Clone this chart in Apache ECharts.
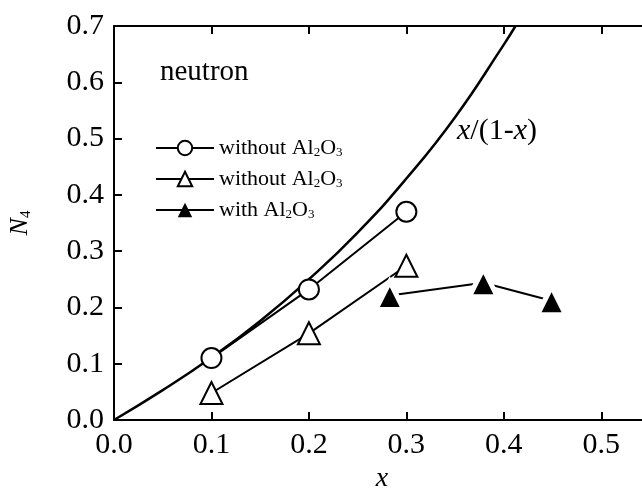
<!DOCTYPE html>
<html>
<head>
<meta charset="utf-8">
<script src="https://cdn.jsdelivr.net/npm/echarts@6/dist/echarts.min.js"></script>
<style>
  html, body { margin: 0; padding: 0; background: #fff; }
  #chart { width: 642px; height: 489px; }
</style>
</head>
<body>
<div id="chart"></div>
<script>
// values
const openCircle = [[0.1, 0.11], [0.2, 0.232], [0.3, 0.37]];
const openTriangle = [[0.1, 0.048], [0.2, 0.154], [0.3, 0.274]];
const filledTriangle = [[0.283, 0.221], [0.379, 0.244], [0.449, 0.212]];
const curvePoints = [[0, 0], [0.05, 0.053], [0.1, 0.111], [0.15, 0.176], [0.2, 0.25],
  [0.25, 0.333], [0.3, 0.429], [0.35, 0.538], [0.4, 0.667], [0.412, 0.7]];
const seriesNames = ['circle', 'triangle', 'filled'];
const legendLabels = {
  circle: 'without Al{s|2}O{s|3}',
  triangle: 'without Al{s|2}O{s|3}',
  filled: 'with Al{s|2}O{s|3}'
};

const serif = 'Liberation Serif';
const chart = echarts.init(document.getElementById('chart'));

const axisLine = { onZero: false, lineStyle: { color: '#000', width: 2 } };
const tick = { inside: true, length: 8, lineStyle: { color: '#000', width: 2 } };
const tickLabel = { color: '#000', fontFamily: serif, fontSize: 30 };

chart.setOption({
  animation: false,
  backgroundColor: '#fff',
  grid: { left: 114, top: 26, width: 536, height: 394, containLabel: false, outerBoundsMode: 'none' },
  legend: {
    data: [
      { name: seriesNames[0] },
      { name: seriesNames[1] },
      { name: seriesNames[2], itemStyle: { borderWidth: 0 } }
    ],
    orient: 'vertical',
    left: 150,
    top: 132,
    itemWidth: 58,
    itemHeight: 18,
    itemGap: 9,
    formatter: name => legendLabels[name],
    textStyle: {
      color: '#000', fontFamily: serif, fontSize: 22, lineHeight: 22,
      rich: { s: { fontFamily: serif, fontSize: 13, verticalAlign: 'bottom', padding: [11, 0, 0, 0] } }
    }
  },
  xAxis: [{
    type: 'value', min: 0, max: 0.55, interval: 0.1,
    axisLine: axisLine, axisTick: tick, splitLine: { show: false },
    axisLabel: Object.assign({ margin: 10, showMaxLabel: false, formatter: v => v.toFixed(1) }, tickLabel),
    name: 'x', nameLocation: 'middle', nameGap: 36,
    nameTextStyle: { color: '#000', fontFamily: serif, fontSize: 28, fontStyle: 'italic' }
  }, {
    type: 'value', position: 'top', min: 0, max: 0.55, interval: 0.1,
    axisLine: axisLine, axisTick: tick, axisLabel: { show: false }, splitLine: { show: false }
  }],
  yAxis: [{
    type: 'value', min: 0, max: 0.7, interval: 0.1,
    axisLine: axisLine, axisTick: tick, splitLine: { show: false },
    axisLabel: Object.assign({ margin: 10, formatter: v => v.toFixed(1) }, tickLabel),
    name: '{n|N}{s|4}', nameLocation: 'middle', nameGap: 80, nameRotate: 90,
    nameTextStyle: {
      color: '#000',
      rich: {
        n: { fontFamily: serif, fontSize: 26, fontStyle: 'italic', color: '#000' },
        s: { fontFamily: serif, fontSize: 15, color: '#000', verticalAlign: 'bottom', padding: [12, 0, 0, 0] }
      }
    }
  }, {
    type: 'value', position: 'right', min: 0, max: 0.7, interval: 0.1,
    axisLine: axisLine, axisTick: tick, axisLabel: { show: false }, splitLine: { show: false }
  }],
  graphic: [{
    type: 'text', left: 160, top: 58,
    style: { text: 'neutron', fill: '#000', font: '29px "Liberation Serif"' }
  }, {
    type: 'text', left: 457, top: 116,
    style: {
      text: '{i|x}/(1-{i|x})', fill: '#000',
      rich: {
        i: { fontFamily: serif, fontSize: 30, fontStyle: 'italic', fill: '#000' }
      },
      fontFamily: serif, fontSize: 30
    }
  }],
  series: [{
    name: 'curve', type: 'line', data: curvePoints, smooth: true, symbol: 'none',
    lineStyle: { color: '#000', width: 2.5 }, z: 1
  }, {
    name: seriesNames[0], type: 'line', data: openCircle, symbol: 'circle', symbolSize: 20,
    lineStyle: { color: '#000', width: 2 },
    itemStyle: { color: '#fff', borderColor: '#000', borderWidth: 2 }, z: 3
  }, {
    name: seriesNames[1], type: 'line', data: openTriangle, symbol: 'triangle', symbolSize: 22,
    lineStyle: { color: '#000', width: 2 },
    itemStyle: { color: '#fff', borderColor: '#000', borderWidth: 2 }, z: 3
  }, {
    name: seriesNames[2], type: 'line', data: filledTriangle, symbol: 'triangle', symbolSize: 28,
    lineStyle: { color: '#000', width: 2 },
    itemStyle: { color: '#000', borderColor: '#fff', borderWidth: 5 }, z: 3
  }]
});
</script>
</body>
</html>
